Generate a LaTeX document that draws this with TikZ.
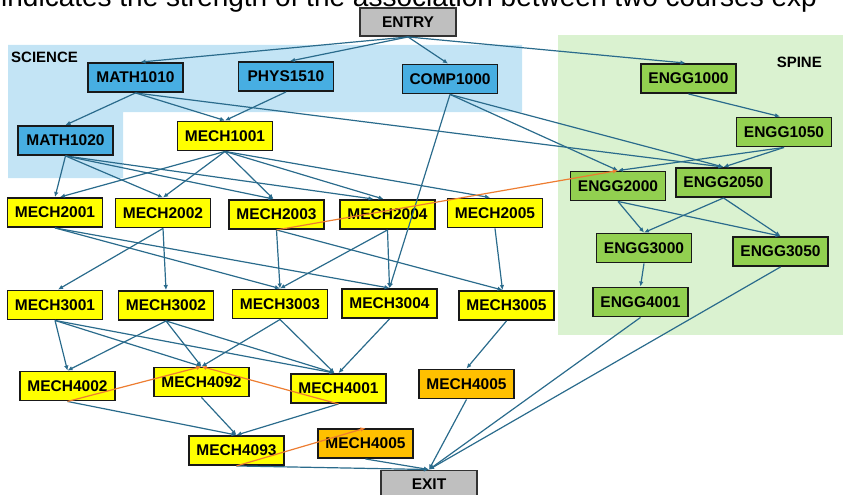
\documentclass[tikz,border=0pt]{standalone}
\usepackage{fontspec}
\setmainfont{Liberation Sans}
\usepackage{tikz}
\usetikzlibrary{arrows.meta,positioning}

\definecolor{edgeblue}{HTML}{2A6B8C}
\definecolor{assocorange}{HTML}{ED7D31}
\definecolor{scifill}{HTML}{47AEE2}
\definecolor{sciarea}{HTML}{C3E4F5}
\definecolor{spinefill}{HTML}{92D050}
\definecolor{spinearea}{HTML}{DAF2D0}
\definecolor{mechfill}{HTML}{FFFF00}
\definecolor{optfill}{HTML}{FFC000}
\definecolor{gatefill}{HTML}{BFBFBF}

\begin{document}
\begin{tikzpicture}[
    x=1pt, y=-1pt,
    >={Latex[length=5pt,width=4.5pt]},
    course/.style={
        draw=black!90,
        line width=1.9pt,
        rectangle,
        align=center,
        inner sep=0pt,
        font=\fontsize{15.5}{17}\selectfont\bfseries,
        minimum width=95pt,
        minimum height=29pt
    },
    sci/.style={course, fill=scifill},
    mech/.style={course, fill=mechfill},
    spine/.style={course, fill=spinefill},
    opt/.style={course, fill=optfill},
    gate/.style={course, fill=gatefill, draw=black!80, minimum width=96pt, minimum height=28pt},
    area/.style={font=\fontsize{15}{17}\selectfont\bfseries, inner sep=0pt},
    link/.style={->, draw=edgeblue, line width=1.2pt},
    assoc/.style={->, draw=assocorange, line width=1.2pt}
]

\useasboundingbox (0,0) rectangle (843,495);

\begin{scope}
\clip (0,0) rectangle (843,495);

\fill[sciarea] (8,45) -- (522,45) -- (522,112) -- (123,112) -- (123,178) -- (8,178) -- cycle;
\fill[spinearea] (558,35) rectangle (843,335);

\node[anchor=base west, inner sep=0pt, font=\fontsize{28}{30}\selectfont] (caption) at (1,7)
    {indicates the strength of the association between two courses exp};

\node[area, anchor=west] (science) at (11,57) {SCIENCE};
\node[area, anchor=east] (spinelbl) at (822,62) {SPINE};

\node[gate] (entry) at (408,22) {ENTRY};

\node[sci] (math1010) at (135.5,77.5) {MATH1010};
\node[sci] (phys1510) at (286,76.5) {PHYS1510};
\node[sci] (comp1000) at (450,79) {COMP1000};
\node[sci] (math1020) at (65.5,140.5) {MATH1020};

\node[mech] (mech1001) at (225,136) {MECH1001};

\node[mech] (mech2001) at (55,212.5) {MECH2001};
\node[mech] (mech2002) at (163,213) {MECH2002};
\node[mech] (mech2003) at (276.5,214.5) {MECH2003};
\node[mech] (mech2004) at (387.5,214.5) {MECH2004};
\node[mech] (mech2005) at (495,213) {MECH2005};

\node[mech] (mech3001) at (55,305) {MECH3001};
\node[mech] (mech3002) at (166,305.5) {MECH3002};
\node[mech] (mech3003) at (280,304) {MECH3003};
\node[mech] (mech3004) at (389.5,303.5) {MECH3004};
\node[mech] (mech3005) at (506.5,305.5) {MECH3005};

\node[mech] (mech4002) at (67.5,386) {MECH4002};
\node[mech] (mech4092) at (201.5,382) {MECH4092};
\node[mech] (mech4001) at (338.5,388.5) {MECH4001};
\node[opt] (mech4005a) at (466.5,384) {MECH4005};

\node[mech] (mech4093) at (236.5,450.5) {MECH4093};
\node[opt] (mech4005b) at (365.5,443.5) {MECH4005};

\node[gate] (exit) at (429,484.5) {EXIT};

\node[spine] (engg1000) at (688.5,78.5) {ENGG1000};
\node[spine] (engg1050) at (784,132) {ENGG1050};
\node[spine] (engg2000) at (618,186) {ENGG2000};
\node[spine] (engg2050) at (723.5,182.5) {ENGG2050};
\node[spine] (engg3000) at (644,248) {ENGG3000};
\node[spine] (engg3050) at (780.5,251.5) {ENGG3050};
\node[spine] (engg4001) at (640.5,302) {ENGG4001};

\draw[link] (entry.south) -- ([xshift=5pt]math1010.north);
\draw[link] (entry.south) -- ([xshift=4pt]phys1510.north);
\draw[link] (entry.south) -- ([xshift=-2pt]comp1000.north);
\draw[link] (entry.south) -- ([xshift=-3pt]engg1000.north);

\draw[link] (math1010.south) -- (math1020.north);
\draw[link] (math1010.south) -- (mech1001.north);
\draw[link] (math1010.south) -- (engg2050.north);
\draw[link] (phys1510.south) -- (mech1001.north);
\draw[link] (comp1000.south) -- (mech3004.north);
\draw[link] (comp1000.south) -- (engg2000.north);
\draw[link] (comp1000.south) -- (engg2050.north);

\draw[link] (math1020.south) -- (mech2001.north);
\draw[link] (math1020.south) -- (mech2002.north);
\draw[link] (math1020.south) -- ([xshift=-3pt]mech2003.north);
\draw[link] (math1020.south) -- ([xshift=-14pt]mech2004.north);
\draw[link] (mech1001.south) -- ([xshift=5pt]mech2001.north);
\draw[link] (mech1001.south) -- (mech2002.north);
\draw[link] (mech1001.south) -- ([xshift=-3pt]mech2003.north);
\draw[link] (mech1001.south) -- ([xshift=-4pt]mech2004.north);
\draw[link] (mech1001.south) -- ([xshift=-5pt]mech2005.north);

\draw[link] (mech2001.south) -- (mech3003.north);
\draw[link] (mech2001.south) -- (mech3004.north);
\draw[link] (mech2002.south) -- ([xshift=3pt]mech3001.north);
\draw[link] (mech2002.south) -- (mech3002.north);
\draw[link] (mech2003.south) -- (mech3003.north);
\draw[link] (mech2003.south) -- ([xshift=-4pt]mech3005.north);
\draw[link] (mech2004.south) -- (mech3003.north);
\draw[link] (mech2004.south) -- (mech3004.north);
\draw[link] (mech2005.south) -- ([xshift=-4pt]mech3005.north);

\draw[link] (mech3001.south) -- (mech4002.north);
\draw[link] (mech3001.south) -- (mech4092.north);
\draw[link] (mech3001.south) -- ([xshift=-4pt]mech4001.north);
\draw[link] (mech3002.south) -- (mech4002.north);
\draw[link] (mech3002.south) -- (mech4092.north);
\draw[link] (mech3002.south) -- ([xshift=-4pt]mech4001.north);
\draw[link] (mech3003.south) -- (mech4092.north);
\draw[link] (mech3003.south) -- ([xshift=-4pt]mech4001.north);
\draw[link] (mech3004.south) -- (mech4001.north);
\draw[link] (mech3005.south) -- (mech4005a.north);

\draw[link] (mech4002.south) -- (mech4093.north);
\draw[link] (mech4092.south) -- (mech4093.north);
\draw[link] (mech4001.south) -- (mech4093.north);
\draw[link] (mech4093.south) -- (exit.north);
\draw[link] (mech4005b.south) -- (exit.north);
\draw[link] (mech4005a.south) -- (exit.north);
\draw[link] (engg4001.south) -- (exit.north);
\draw[link] (engg3050.south) -- (exit.north);

\draw[link] (engg1000.south) -- ([xshift=-4pt]engg1050.north);
\draw[link] (engg1050.south) -- (engg2000.north);
\draw[link] (engg1050.south) -- (engg2050.north);
\draw[link] (engg2000.south) -- (engg3000.north);
\draw[link] (engg2000.south) -- (engg3050.north);
\draw[link] (engg2050.south) -- (engg3000.north);
\draw[link] (engg2050.south) -- (engg3050.north);
\draw[link] (engg3000.south) -- (engg4001.north);

\draw[assoc] (mech2003.south) -- (engg2000.north);
\draw[assoc] (mech4002.south) -- (mech4092.north);
\draw[assoc] (mech4001.south) -- (mech4092.north);
\draw[assoc] (mech4093.south) -- (mech4005b.north);

\end{scope}
\end{tikzpicture}
\end{document}
